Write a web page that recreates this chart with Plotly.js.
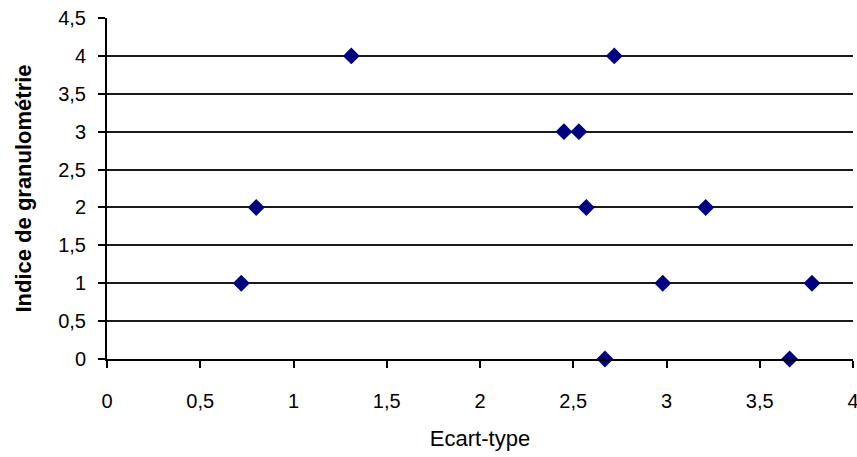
<!DOCTYPE html>
<html>
<head>
<meta charset="utf-8">
<script src="https://cdn.plot.ly/plotly-3.0.1.min.js"></script>
<style>html,body{margin:0;padding:0;background:#fff;}#chart{width:857px;height:457px;}</style>
</head>
<body>
<div id="chart"></div>
<script>
const ecartType = [1.31, 2.72, 2.45, 2.53, 0.80, 2.57, 3.21, 0.72, 2.98, 3.78, 2.67, 3.66];
const indiceGranulometrie = [4, 4, 3, 3, 2, 2, 2, 1, 1, 1, 0, 0];
const xTitle = "Ecart-type";
const yTitle = "Indice de granulométrie";

const trace = {
  x: ecartType,
  y: indiceGranulometrie,
  type: "scatter",
  mode: "markers",
  marker: {symbol: "diamond", size: 13, color: "#000080"},
  cliponaxis: false,
  showlegend: false
};

const tickFont = {family: "Liberation Sans, Arial, sans-serif", size: 20, color: "#000"};

const layout = {
  width: 857, height: 457,
  margin: {l: 107, r: 4, t: 18, b: 98},
  paper_bgcolor: "#fff", plot_bgcolor: "#fff",
  separators: ", ",
  xaxis: {
    range: [0, 4], dtick: 0.5, tick0: 0,
    showgrid: false, zeroline: false,
    showline: true, linecolor: "#000", linewidth: 2,
    ticks: "outside", ticklen: 7, tickcolor: "#000", tickwidth: 2,
    tickfont: tickFont, ticklabelstandoff: 16, ticklabeloverflow: "allow",
    title: {text: xTitle, font: {family: "Liberation Sans, Arial, sans-serif", size: 22, color: "#000"}, standoff: 20}
  },
  yaxis: {
    range: [0, 4.5], dtick: 0.5, tick0: 0,
    showgrid: true, gridcolor: "#1a1a1a", gridwidth: 2,
    zeroline: false,
    showline: true, linecolor: "#000", linewidth: 2,
    ticks: "outside", ticklen: 7, tickcolor: "#000", tickwidth: 2,
    tickfont: tickFont, ticklabelstandoff: 8, ticklabeloverflow: "allow",
    title: {text: yTitle, font: {family: "Liberation Sans, Arial, sans-serif", size: 22, color: "#000", weight: "bold"}, standoff: 20}
  }
};

Plotly.newPlot("chart", [trace], layout, {displayModeBar: false, staticPlot: true});
</script>
</body>
</html>
